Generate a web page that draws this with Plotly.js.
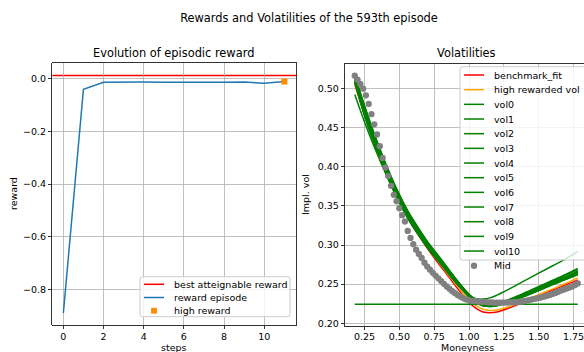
<!DOCTYPE html>
<html>
<head>
<meta charset="utf-8">
<script src="https://cdn.plot.ly/plotly-3.0.1.min.js"></script>
<style>
  html, body { margin: 0; padding: 0; background: #fff; }
  #chart { width: 584px; height: 352px; }
</style>
</head>
<body>
<div id="chart"></div>
<script>
// ---- episode rewards ----
const steps = [0, 1, 2, 3, 4, 5, 6, 7, 8, 9, 10, 11];
const rewardEpisode = [-0.888, -0.0416, -0.015, -0.014, -0.014, -0.015, -0.014, -0.015, -0.015, -0.014, -0.019, -0.012];
const bestReward = 0.011;
const highRewardStep = [11];
const highRewardValue = [-0.012];

// ---- volatility smiles ----
const moneynessGrid = [0.18, 0.25, 0.32, 0.40, 0.48, 0.56, 0.64, 0.72, 0.80, 0.88, 0.95, 1.00, 1.05, 1.10, 1.15, 1.20, 1.30, 1.40, 1.50, 1.60, 1.70, 1.78];
const benchmarkFit    = [0.505, 0.466, 0.431, 0.395, 0.362, 0.335, 0.312, 0.291, 0.272, 0.2535, 0.237, 0.2265, 0.219, 0.2145, 0.2135, 0.2145, 0.2205, 0.2275, 0.235, 0.2425, 0.2495, 0.2555];
const highRewardedVol = [0.507, 0.468, 0.433, 0.397, 0.364, 0.337, 0.314, 0.293, 0.274, 0.2555, 0.240, 0.2295, 0.2225, 0.218, 0.2165, 0.217, 0.222, 0.229, 0.2365, 0.244, 0.2515, 0.258];
const vol0  = [0.2245, 0.2245, 0.2245, 0.2245, 0.2245, 0.2245, 0.2245, 0.2245, 0.2245, 0.2245, 0.2245, 0.2245, 0.2245, 0.2245, 0.2245, 0.2245, 0.2245, 0.2245, 0.2245, 0.2245, 0.2245, 0.2245];
const vol1  = [0.492, 0.457, 0.425, 0.392, 0.362, 0.336, 0.314, 0.294, 0.276, 0.258, 0.244, 0.236, 0.2315, 0.231, 0.2325, 0.236, 0.245, 0.2545, 0.264, 0.2735, 0.283, 0.2915];
const vol2  = [0.516, 0.477, 0.441, 0.404, 0.371, 0.343, 0.320, 0.299, 0.281, 0.262, 0.247, 0.237, 0.2295, 0.2255, 0.2245, 0.2255, 0.2315, 0.2390, 0.2470, 0.2550, 0.2630, 0.2700];
const vol3  = [0.509, 0.466, 0.430, 0.394, 0.362, 0.335, 0.313, 0.293, 0.276, 0.258, 0.244, 0.234, 0.2265, 0.2225, 0.2215, 0.2225, 0.2280, 0.2350, 0.2420, 0.2495, 0.2565, 0.2625];
const vol4  = [0.515, 0.473, 0.437, 0.401, 0.368, 0.341, 0.318, 0.298, 0.280, 0.261, 0.246, 0.236, 0.2285, 0.2245, 0.2235, 0.2245, 0.2300, 0.2370, 0.2445, 0.2525, 0.2600, 0.2665];
const vol5  = [0.511, 0.468, 0.432, 0.396, 0.363, 0.337, 0.314, 0.294, 0.277, 0.259, 0.244, 0.234, 0.2270, 0.2230, 0.2220, 0.2230, 0.2285, 0.2355, 0.2430, 0.2505, 0.2580, 0.2640];
const vol6  = [0.516, 0.475, 0.439, 0.403, 0.370, 0.342, 0.319, 0.299, 0.280, 0.262, 0.246, 0.236, 0.2280, 0.2240, 0.2230, 0.2240, 0.2295, 0.2365, 0.2440, 0.2520, 0.2595, 0.2660];
const vol7  = [0.508, 0.465, 0.429, 0.393, 0.361, 0.334, 0.312, 0.292, 0.275, 0.257, 0.243, 0.234, 0.2265, 0.2225, 0.2215, 0.2225, 0.2280, 0.2345, 0.2420, 0.2495, 0.2565, 0.2620];
const vol8  = [0.513, 0.471, 0.435, 0.399, 0.366, 0.339, 0.316, 0.296, 0.278, 0.260, 0.245, 0.235, 0.2275, 0.2235, 0.2225, 0.2235, 0.2290, 0.2360, 0.2435, 0.2510, 0.2585, 0.2650];
const vol9  = [0.517, 0.478, 0.442, 0.405, 0.372, 0.344, 0.321, 0.300, 0.282, 0.263, 0.247, 0.237, 0.2290, 0.2250, 0.2240, 0.2250, 0.2310, 0.2380, 0.2460, 0.2540, 0.2620, 0.2685];
const vol10 = [0.510, 0.467, 0.431, 0.395, 0.363, 0.336, 0.313, 0.293, 0.276, 0.258, 0.244, 0.234, 0.2275, 0.2235, 0.2225, 0.2235, 0.2290, 0.2355, 0.2430, 0.2505, 0.2580, 0.2645];
const vols = [vol0, vol1, vol2, vol3, vol4, vol5, vol6, vol7, vol8, vol9, vol10];

// ---- market mid quotes ----
const midMoneyness = [
  0.18, 0.20, 0.22, 0.24, 0.26, 0.28, 0.30, 0.32, 0.34, 0.36, 0.38, 0.40, 0.42, 0.44, 0.46, 0.48, 0.50,
  0.52, 0.54, 0.56, 0.58, 0.60, 0.62, 0.64, 0.66, 0.68, 0.70, 0.72, 0.74, 0.76, 0.78, 0.80, 0.82, 0.84,
  0.86, 0.88, 0.90, 0.92, 0.94, 0.96, 0.98, 1.00, 1.02, 1.04, 1.06, 1.08, 1.10, 1.12, 1.14, 1.16, 1.18,
  1.20, 1.22, 1.24, 1.26, 1.28, 1.30, 1.32, 1.34, 1.36, 1.38, 1.40, 1.42, 1.44, 1.46, 1.48, 1.50, 1.52,
  1.54, 1.56, 1.58, 1.60, 1.62, 1.64, 1.66, 1.68, 1.70, 1.72, 1.74, 1.76, 1.78
];
const midVol = [
  0.516, 0.511, 0.5055, 0.4995, 0.491, 0.480, 0.467, 0.454, 0.441, 0.426, 0.411, 0.399, 0.388, 0.3755, 0.364, 0.3558, 0.347,
  0.338, 0.330, 0.318, 0.309, 0.301, 0.294, 0.2885, 0.2835, 0.2775, 0.2725, 0.2685, 0.2645, 0.2610, 0.2575, 0.2540, 0.2505, 0.2470,
  0.2440, 0.2410, 0.2385, 0.2360, 0.2340, 0.2320, 0.2305, 0.2295, 0.2288, 0.2283, 0.2280, 0.2277, 0.2275, 0.2272, 0.2268, 0.2266, 0.2265,
  0.2264, 0.2264, 0.2264, 0.2265, 0.2266, 0.2267, 0.2269, 0.2271, 0.2274, 0.2279, 0.2285, 0.2292, 0.2300, 0.2308, 0.2316, 0.2325, 0.2333,
  0.2342, 0.2352, 0.2363, 0.2375, 0.2388, 0.2403, 0.2418, 0.2432, 0.2445, 0.2457, 0.2470, 0.2488, 0.2510
];

// ---- figure geometry (pixels) ----
const W = 584, H = 352;
const X = p => p / W;          // pixel column -> paper x
const Y = p => 1 - p / H;      // pixel row    -> paper y
const FONT = 'DejaVu Sans, Liberation Sans, sans-serif';
const TXT = 9.5, TITLE = 11.4;

const COLORS = { best: '#ff0000', episode: '#1f77b4', high: '#ff8c00', fit: '#ff0000', highVol: '#ffa500', vol: '#008000', mid: '#808080' };

// ---- traces ----
const traces = [];
traces.push({
  x: steps, y: rewardEpisode, type: 'scatter', mode: 'lines', name: 'reward episode',
  line: { color: COLORS.episode, width: 1.5 }, xaxis: 'x', yaxis: 'y', hoverinfo: 'skip'
});
traces.push({
  x: highRewardStep, y: highRewardValue, type: 'scatter', mode: 'markers', name: 'high reward',
  marker: { symbol: 'square', size: 6, color: COLORS.high }, xaxis: 'x', yaxis: 'y', hoverinfo: 'skip'
});

const smileTrace = (y, name, color) => ({
  x: moneynessGrid, y: y, type: 'scatter', mode: 'lines', name: name,
  line: { color: color, width: 1.5, shape: 'spline', smoothing: 1 },
  xaxis: 'x2', yaxis: 'y2', hoverinfo: 'skip'
});
const rightTraces = [smileTrace(benchmarkFit, 'benchmark_fit', COLORS.fit), smileTrace(highRewardedVol, 'high rewarded vol', COLORS.highVol)];
vols.forEach((v, i) => rightTraces.push(smileTrace(v, 'vol' + i, COLORS.vol)));
rightTraces.push({
  x: midMoneyness, y: midVol, type: 'scatter', mode: 'markers', name: 'Mid',
  marker: { color: COLORS.mid, size: 6.3 }, xaxis: 'x2', yaxis: 'y2', hoverinfo: 'skip'
});
traces.push(...rightTraces);

// ---- legend boxes drawn from the trace list ----
const shapes = [];
const annotations = [];

// best attainable reward spans the whole reward panel
shapes.push({
  type: 'line', xref: 'x domain', yref: 'y', x0: 0, x1: 1, y0: bestReward, y1: bestReward,
  line: { color: COLORS.best, width: 1.5 }, layer: 'below'
});

function roundedFrame(x0, y0, x1, y1, r) {
  const p = `M${X(x0 + r)},${Y(y0)} L${X(x1 - r)},${Y(y0)} Q${X(x1)},${Y(y0)} ${X(x1)},${Y(y0 + r)} ` +
            `L${X(x1)},${Y(y1 - r)} Q${X(x1)},${Y(y1)} ${X(x1 - r)},${Y(y1)} ` +
            `L${X(x0 + r)},${Y(y1)} Q${X(x0)},${Y(y1)} ${X(x0)},${Y(y1 - r)} ` +
            `L${X(x0)},${Y(y0 + r)} Q${X(x0)},${Y(y0)} ${X(x0 + r)},${Y(y0)} Z`;
  return { type: 'path', xref: 'paper', yref: 'paper', path: p,
           fillcolor: 'rgba(255,255,255,0.8)', line: { color: '#cccccc', width: 1 }, layer: 'above' };
}

function drawLegend(items, box, firstRow, rowGap) {
  shapes.push(roundedFrame(box[0], box[1], box[2], box[3], 2.5));
  items.forEach((it, i) => {
    const cy = firstRow + i * rowGap;
    const hx0 = box[0] + 4, hx1 = box[0] + 24, hc = box[0] + 14;
    if (it.kind === 'line') {
      shapes.push({ type: 'line', xref: 'paper', yref: 'paper', x0: X(hx0), x1: X(hx1), y0: Y(cy), y1: Y(cy),
                    line: { color: it.color, width: 1.5 }, layer: 'above' });
    } else if (it.kind === 'square') {
      const s = 2.9;
      shapes.push({ type: 'rect', xref: 'paper', yref: 'paper', x0: X(hc - s), x1: X(hc + s), y0: Y(cy + s), y1: Y(cy - s),
                    fillcolor: it.color, line: { width: 0 }, layer: 'above' });
    } else {
      const r = 3.2;
      shapes.push({ type: 'circle', xref: 'paper', yref: 'paper', x0: X(hc - r), x1: X(hc + r), y0: Y(cy + r), y1: Y(cy - r),
                    fillcolor: it.color, line: { width: 0 }, layer: 'above' });
    }
    annotations.push({ text: it.name, xref: 'paper', yref: 'paper', x: X(box[0] + 32), y: Y(cy),
                       xanchor: 'left', yanchor: 'middle', showarrow: false, font: { size: TXT, color: '#000' } });
  });
}

const itemOf = t => t.mode === 'lines'
  ? { name: t.name, color: t.line.color, kind: 'line' }
  : { name: t.name, color: t.marker.color, kind: t.marker.symbol === 'square' ? 'square' : 'circle' };

drawLegend(
  [{ name: 'best atteignable reward', color: COLORS.best, kind: 'line' }, itemOf(traces[0]), itemOf(traces[1])],
  [140, 276.7, 290, 316.7], 284.3, 13.2
);
drawLegend(rightTraces.map(itemOf), [460, 66.7, 592, 260], 75, 14.67);

// ---- titles ----
const label = (text, px, py, size, angle) => ({
  text: text, xref: 'paper', yref: 'paper', x: X(px), y: Y(py), xanchor: 'center', yanchor: 'middle',
  showarrow: false, textangle: angle || 0, font: { size: size, color: '#000' }
});
annotations.push(label('Evolution of episodic reward', 173, 53.3, TITLE));
annotations.push(label('Volatilities', 466.5, 53.3, TITLE));
annotations.push(label('steps', 174.2, 347.5, TXT));
annotations.push(label('reward', 13, 194, TXT, -90));
annotations.push(label('Moneyness', 467, 347.5, TXT));
annotations.push(label('Impl. vol', 305, 195, TXT, -90));

// ---- axes ----
const axisStyle = {
  showline: true, linecolor: '#000', linewidth: 0.8,
  ticks: 'outside', ticklen: 3.5, tickwidth: 0.8, tickcolor: '#000',
  showgrid: true, gridcolor: '#b0b0b0', gridwidth: 0.8, zeroline: false,
  tickfont: { size: TXT, color: '#000' }, automargin: false, fixedrange: true,
  ticklabeloverflow: 'allow'
};

const layout = {
  width: W, height: H,
  margin: { l: 0, r: 0, t: 0, b: 0 },
  paper_bgcolor: '#fff', plot_bgcolor: '#fff',
  font: { family: FONT, size: TXT, color: '#000' },
  showlegend: false,
  title: { text: 'Rewards and Volatilities of the 593th episode', x: X(309), xanchor: 'center',
           y: Y(18), yanchor: 'middle', font: { size: TITLE, color: '#000' } },
  xaxis: Object.assign({}, axisStyle, { domain: [X(52.3), X(296)], range: [-0.55, 11.58], tick0: 0, dtick: 2, mirror: true, anchor: 'y', ticklabelstandoff: -1 }),
  yaxis: Object.assign({}, axisStyle, { domain: [Y(325), Y(63.3)], range: [-0.933, 0.0567], tick0: 0, dtick: 0.2, tickformat: '.1f', mirror: true, anchor: 'x' }),
  xaxis2: Object.assign({}, axisStyle, { domain: [X(345), 1], range: [0.11, 1.825], tick0: 0.25, dtick: 0.25, tickformat: '.2f', mirror: true, anchor: 'y2', ticklabelstandoff: -1 }),
  yaxis2: Object.assign({}, axisStyle, { domain: [Y(325.7), Y(64)], range: [0.197, 0.531], tick0: 0.2, dtick: 0.05, tickformat: '.2f', mirror: false, anchor: 'x2' }),
  shapes: shapes,
  annotations: annotations
};

Plotly.newPlot('chart', traces, layout, { displayModeBar: false, staticPlot: true });
</script>
</body>
</html>
